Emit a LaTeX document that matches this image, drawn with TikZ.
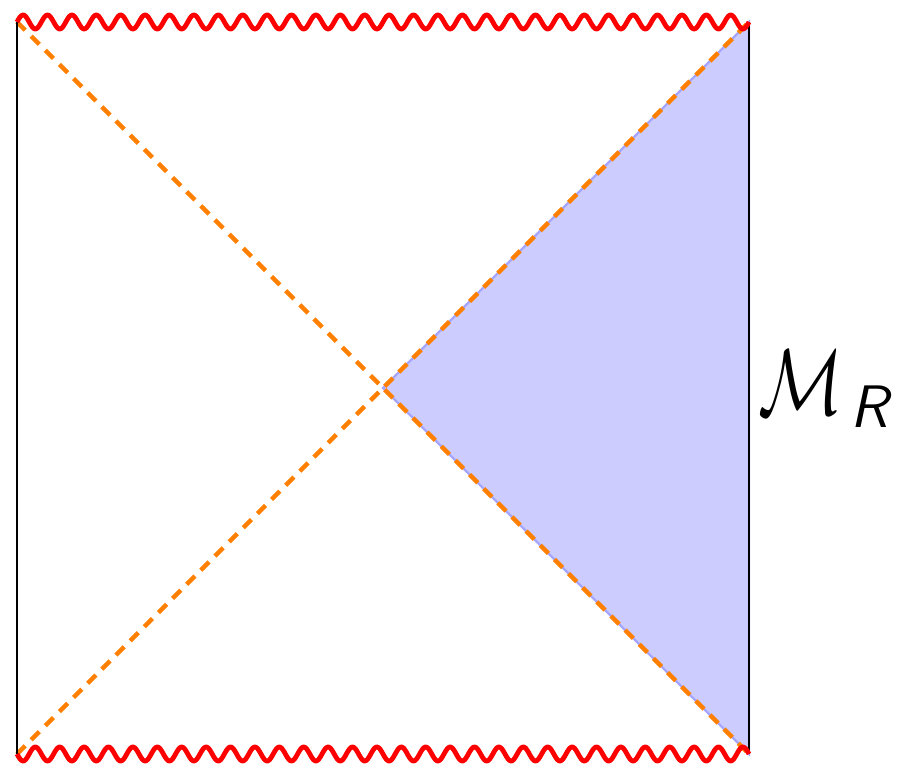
\documentclass[tikz,border=0pt]{standalone}
\begin{document}
\begin{tikzpicture}[x=0.25pt,y=0.25pt,
  bound/.style={black,line width=0.7pt},
  sing/.style={red,line width=1.2pt,line join=round},
  horizon/.style={orange,line width=1.1pt,dash pattern=on 2.9pt off 2.1pt},
  wedge/.style={fill=blue!20,draw=blue!35,line width=0.6pt}]
\useasboundingbox (0,0) rectangle (900,782);
\coordinate (TL) at (17,760);
\coordinate (TR) at (749,760);
\coordinate (BL) at (17,28);
\coordinate (BR) at (749,28);
\coordinate (C) at (383,394);
\fill[wedge] (C) -- (TR) -- (BR) -- cycle;
\draw[horizon] (TL) -- (BR);
\draw[horizon] (BL) -- (TR);
\draw[bound] (TL) -- (BL);
\draw[bound] (TR) -- (BR);
\draw[sing] plot[domain=17:749,samples=733] (\x,{760+7*sin(14.7541*(\x-17))});
\draw[sing] plot[domain=17:749,samples=733] (\x,{28+7*sin(14.7541*(749-\x))});
\node[anchor=base west,inner sep=0pt] (MR) at (758,367)
  {\scalebox{1.02}[1.35]{\fontsize{18}{22}\selectfont$\mathcal{M}$}\kern1.8pt\raisebox{-3.2pt}{\fontsize{15}{18}\selectfont\sffamily\itshape R}};
\end{tikzpicture}
\end{document}
